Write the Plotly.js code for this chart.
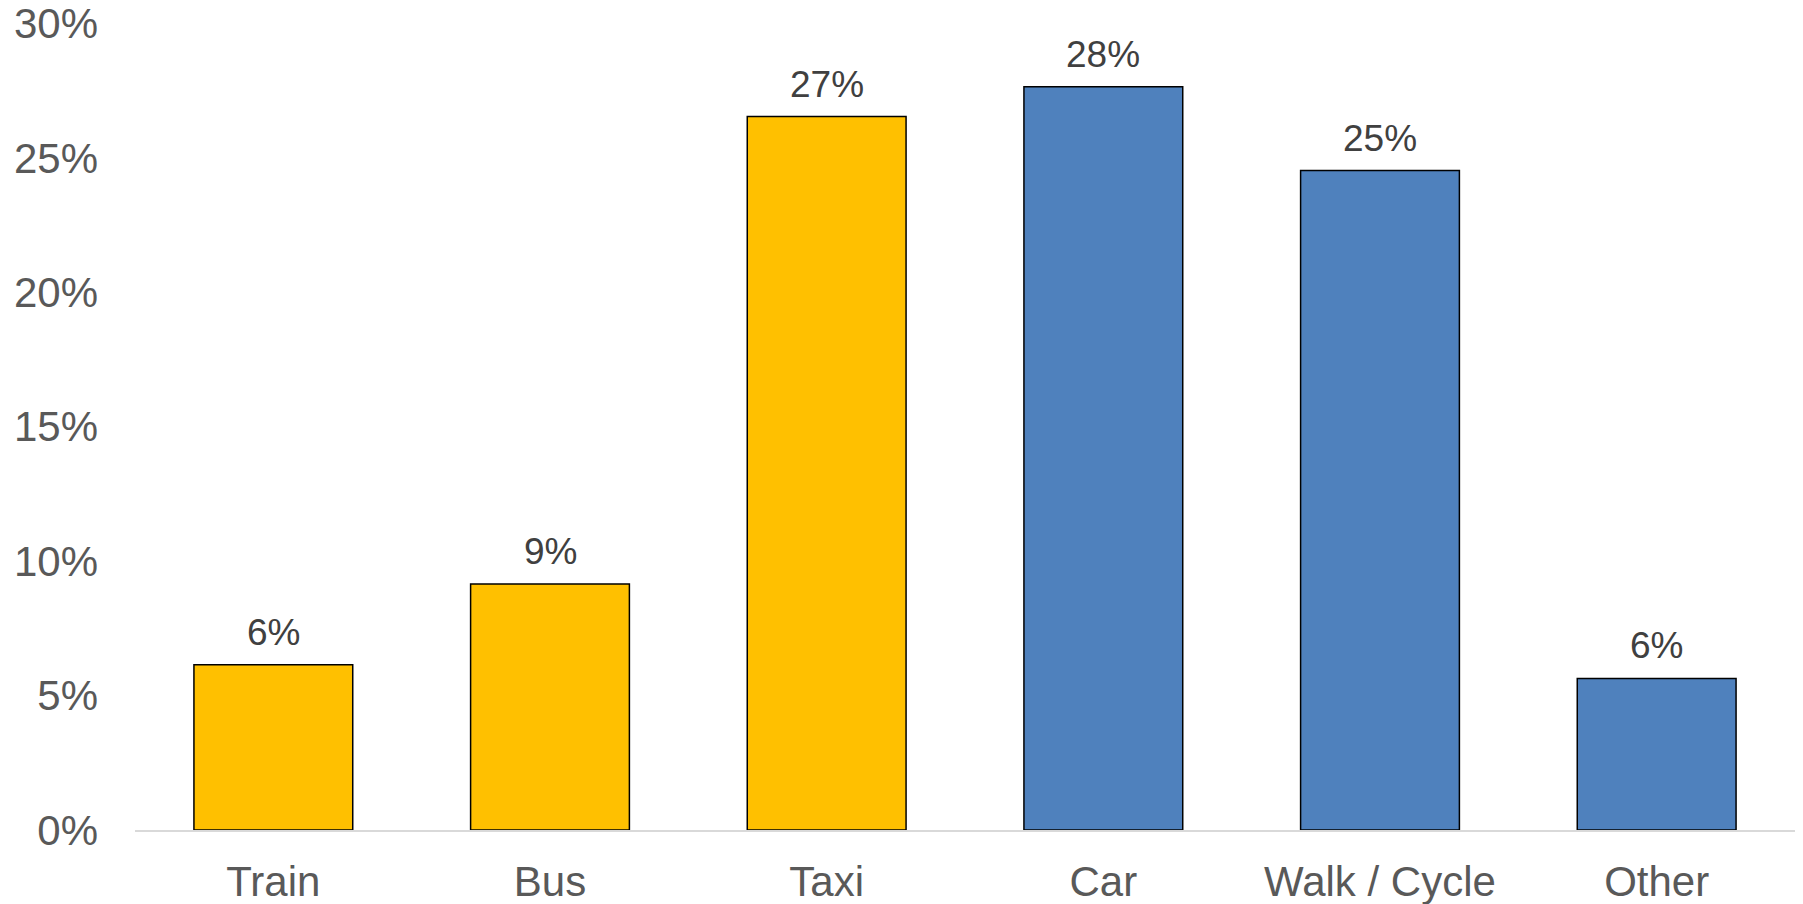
<!DOCTYPE html>
<html>
<head>
<meta charset="utf-8">
<script src="https://cdn.plot.ly/plotly-3.0.1.min.js"></script>
<style>html,body{margin:0;padding:0;background:#fff;}#chart{width:1803px;height:904px;}</style>
</head>
<body>
<div id="chart"></div>
<script>
const categories = ["Train", "Bus", "Taxi", "Car", "Walk / Cycle", "Other"];
const shares = [0.0615, 0.0915, 0.2654, 0.2765, 0.2453, 0.0564];
const barColors = ["#FFC000", "#FFC000", "#FFC000", "#4F81BD", "#4F81BD", "#4F81BD"];
const yTickValues = [0, 0.05, 0.10, 0.15, 0.20, 0.25, 0.30];
const yTickLabels = ["0%", "5%", "10%", "15%", "20%", "25%", "30%"];

const trace = {
  type: "bar",
  x: categories,
  y: shares,
  marker: { color: barColors, line: { color: "#000000", width: 1.5 } },
  hoverinfo: "none"
};

const dataLabels = categories.map((c, i) => ({
  x: c,
  y: shares[i],
  xref: "x",
  yref: "y",
  text: Math.round(shares[i] * 100) + "%",
  showarrow: false,
  yanchor: "bottom",
  yshift: 10,
  font: { family: "Liberation Sans, Arial, sans-serif", size: 37, color: "#404040" }
}));

const layout = {
  width: 1803,
  height: 904,
  margin: { l: 134.5, r: 8, t: 23, b: 74 },
  paper_bgcolor: "#ffffff",
  plot_bgcolor: "#ffffff",
  bargap: 0.426,
  showlegend: false,
  font: { family: "Liberation Sans, Arial, sans-serif", color: "#595959" },
  annotations: dataLabels,
  xaxis: {
    type: "category",
    showline: true,
    linecolor: "#D9D9D9",
    linewidth: 1.5,
    showgrid: false,
    zeroline: false,
    ticks: "",
    tickfont: { size: 42, color: "#595959" },
    ticklabelstandoff: 14
  },
  yaxis: {
    range: [0, 0.3002],
    tickvals: yTickValues,
    ticktext: yTickLabels,
    showgrid: false,
    zeroline: false,
    showline: false,
    ticks: "",
    tickfont: { size: 42, color: "#595959" },
    ticklabelstandoff: 36
  }
};

Plotly.newPlot("chart", [trace], layout, { displayModeBar: false, staticPlot: true });
</script>
</body>
</html>
